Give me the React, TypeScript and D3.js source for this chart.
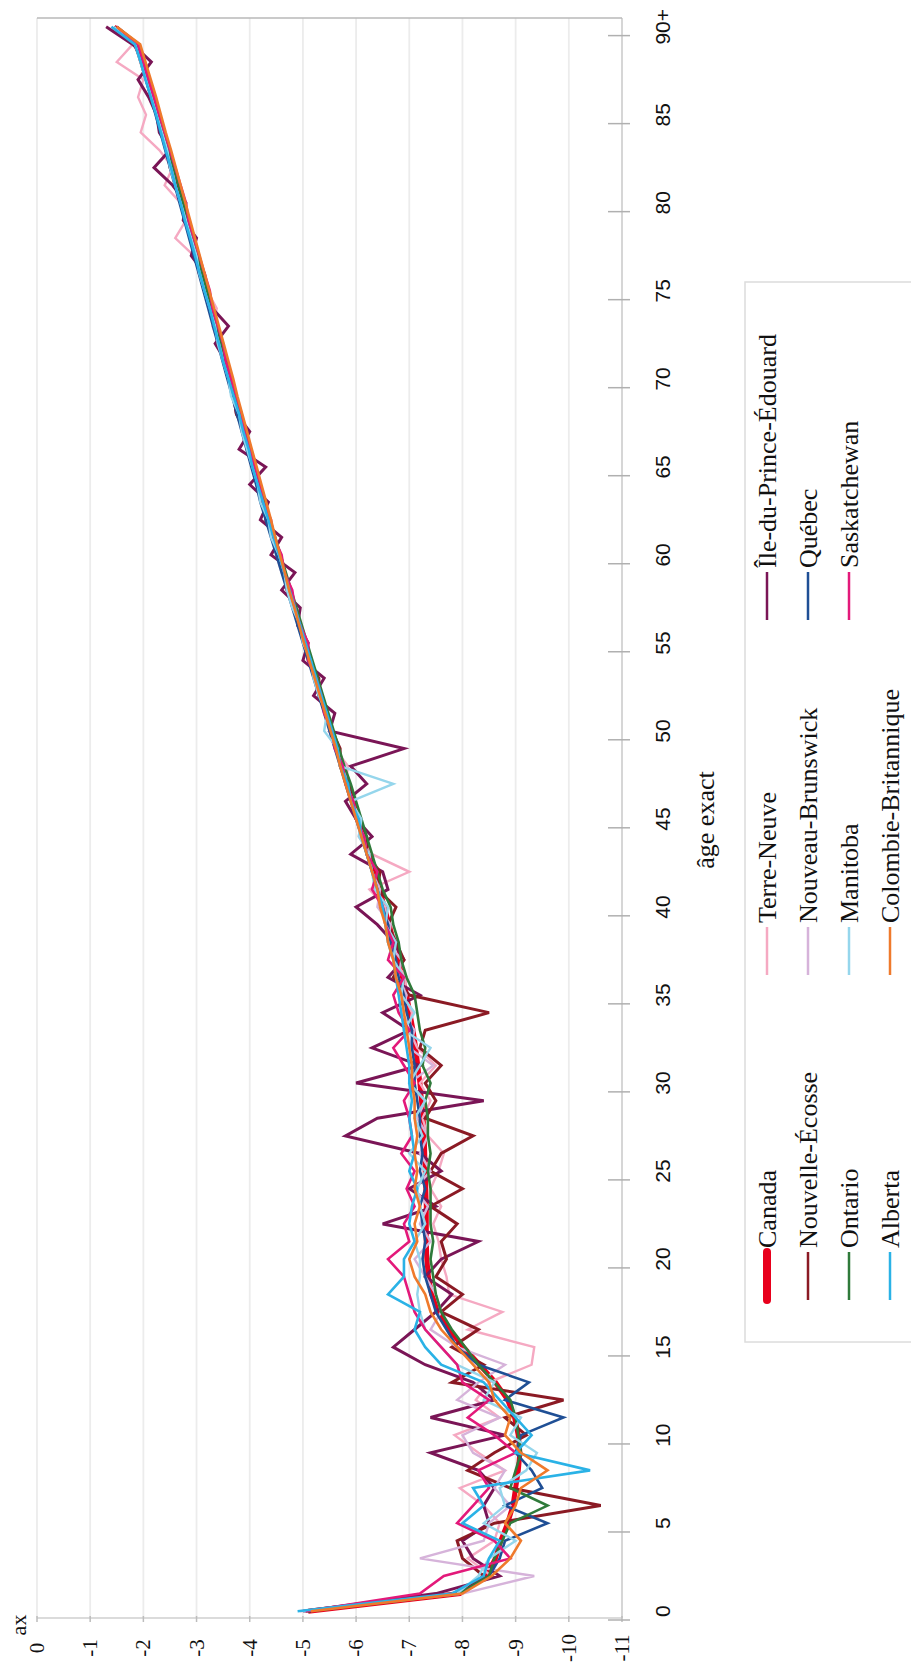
import React from "react";
import * as d3 from "d3";

const ages = d3.range(0, 91);
const valueTicks = [0, -1, -2, -3, -4, -5, -6, -7, -8, -9, -10, -11];
const ageTickCats = [0, 5, 10, 15, 20, 25, 30, 35, 40, 45, 50, 55, 60, 65, 70, 75, 80, 85, 90];
const ageTickLabels = ["0", "5", "10", "15", "20", "25", "30", "35", "40", "45", "50", "55", "60", "65", "70", "75", "80", "85", "90+"];

const canada = [
  -5.10, -7.95, -8.45, -8.62, -8.72, -8.85, -8.95, -9.00, -9.05, -9.08,
  -9.05, -8.98, -8.85, -8.62, -8.32, -8.02, -7.75, -7.55, -7.42, -7.36,
  -7.33, -7.32, -7.32, -7.32, -7.31, -7.30, -7.29, -7.28, -7.26, -7.23,
  -7.20, -7.16, -7.12, -7.07, -7.01, -6.95, -6.87, -6.79, -6.71, -6.62,
  -6.53, -6.44, -6.35, -6.25, -6.15, -6.05, -5.95, -5.85, -5.75, -5.64,
  -5.54, -5.44, -5.34, -5.24, -5.14, -5.04, -4.94, -4.84, -4.74, -4.64,
  -4.54, -4.44, -4.35, -4.25, -4.16, -4.07, -3.98, -3.89, -3.80, -3.71,
  -3.62, -3.53, -3.44, -3.35, -3.26, -3.17, -3.08, -2.99, -2.90, -2.81,
  -2.72, -2.63, -2.54, -2.45, -2.36, -2.27, -2.18, -2.09, -2.00, -1.85,
  -1.45,
];
const terreNeuve = [
  -4.95, -7.85, -8.55, -8.10, -8.60, -8.70, -8.40, -7.95, -8.80, -8.30,
  -7.85, -8.70, -8.25, -8.50, -9.30, -9.35, -8.10, -8.75, -7.75, -7.70,
  -7.60, -7.55, -7.45, -7.60, -7.40, -7.55, -7.65, -7.35, -7.25, -7.40,
  -7.20, -7.50, -7.15, -7.00, -7.05, -6.90, -6.95, -6.70, -6.80, -6.55,
  -6.55, -6.25, -7.00, -6.30, -6.05, -6.10, -5.90, -5.80, -5.85, -5.60,
  -5.50, -5.45, -5.30, -5.25, -5.10, -5.00, -4.95, -4.80, -4.75, -4.60,
  -4.50, -4.42, -4.30, -4.25, -4.12, -4.10, -3.95, -3.90, -3.82, -3.70,
  -3.62, -3.55, -3.42, -3.30, -3.38, -3.20, -3.05, -2.95, -2.60, -2.80,
  -2.70, -2.40, -2.55, -2.30, -1.95, -2.05, -1.90, -2.00, -1.50, -1.80,
  -1.40,
];
const ilePE = [
  -5.00, -7.50, -8.70, -8.20, -8.00, -8.50, -8.40, -8.60, -8.30, -7.40,
  -8.80, -7.40, -8.60, -8.20, -7.30, -6.70, -7.10, -7.50, -7.80, -7.30,
  -7.60, -8.30, -6.50, -7.50, -7.00, -7.60, -7.20, -5.80, -6.40, -8.40,
  -6.00, -7.20, -6.30, -7.00, -6.50, -7.20, -6.60, -6.90, -6.70, -6.40,
  -6.00, -6.60, -6.50, -5.90, -6.30, -6.00, -5.80, -6.20, -5.90, -6.90,
  -5.50, -5.60, -5.20, -5.40, -5.00, -5.10, -4.90, -4.95, -4.60, -4.85,
  -4.40, -4.60, -4.20, -4.35, -4.00, -4.30, -3.80, -4.00, -3.75, -3.70,
  -3.60, -3.55, -3.35, -3.60, -3.30, -3.20, -3.15, -2.90, -3.00, -2.75,
  -2.80, -2.55, -2.20, -2.50, -2.30, -2.25, -2.10, -1.90, -2.15, -1.80,
  -1.30,
];
const nouvelleEcosse = [
  -5.05, -7.90, -8.40, -8.00, -7.90, -8.60, -10.60, -8.90, -8.10, -8.60,
  -9.20, -8.80, -9.90, -7.80, -8.40, -7.80, -8.30, -7.60, -8.00, -7.50,
  -7.70, -7.60, -7.90, -7.40, -8.00, -7.40, -7.60, -8.20, -7.30, -7.50,
  -7.30, -7.60, -7.20, -7.30, -8.50, -7.00, -6.70, -6.90, -6.75, -6.60,
  -6.75, -6.40, -6.45, -6.20, -6.20, -6.00, -5.95, -5.85, -5.70, -5.70,
  -5.55, -5.45, -5.30, -5.30, -5.10, -5.05, -4.95, -4.85, -4.70, -4.65,
  -4.55, -4.45, -4.30, -4.30, -4.15, -4.05, -3.95, -3.90, -3.75, -3.70,
  -3.60, -3.55, -3.40, -3.35, -3.25, -3.20, -3.05, -3.00, -2.90, -2.80,
  -2.70, -2.65, -2.50, -2.45, -2.35, -2.25, -2.15, -2.05, -1.95, -1.85,
  -1.45,
];
const nouveauBrunswick = [
  -5.00, -8.00, -9.35, -7.20, -8.40, -8.50, -8.90, -8.60, -8.80, -8.20,
  -8.00, -8.70, -7.90, -8.30, -8.80, -7.90, -7.40, -7.60, -7.50, -7.30,
  -7.10, -7.40, -7.20, -7.35, -7.10, -7.40, -7.20, -7.35, -7.15, -7.30,
  -7.00, -7.45, -7.00, -7.10, -6.85, -6.95, -6.80, -6.85, -6.60, -6.65,
  -6.40, -6.45, -6.30, -6.20, -6.15, -6.00, -5.95, -5.80, -5.80, -5.60,
  -5.50, -5.45, -5.30, -5.25, -5.15, -5.00, -4.95, -4.85, -4.70, -4.65,
  -4.55, -4.45, -4.35, -4.25, -4.20, -4.05, -4.00, -3.85, -3.80, -3.70,
  -3.60, -3.50, -3.45, -3.35, -3.25, -3.15, -3.10, -3.00, -2.90, -2.80,
  -2.70, -2.60, -2.55, -2.45, -2.35, -2.25, -2.15, -2.05, -1.95, -1.85,
  -1.50,
];
const quebec = [
  -5.10, -7.95, -8.50, -8.70, -8.80, -9.60, -8.80, -9.50, -9.30, -9.00,
  -9.10, -9.90, -8.80, -9.25, -8.30, -7.90, -7.70, -7.50, -7.40, -7.30,
  -7.25, -7.30, -7.25, -7.20, -7.30, -7.20, -7.25, -7.20, -7.20, -7.15,
  -7.10, -7.10, -7.05, -7.05, -6.95, -6.90, -6.80, -6.75, -6.65, -6.60,
  -6.50, -6.40, -6.30, -6.20, -6.10, -6.00, -5.90, -5.80, -5.70, -5.60,
  -5.50, -5.40, -5.30, -5.20, -5.10, -5.00, -4.90, -4.80, -4.70, -4.60,
  -4.50, -4.40, -4.30, -4.20, -4.12, -4.03, -3.94, -3.85, -3.76, -3.67,
  -3.58, -3.49, -3.40, -3.31, -3.22, -3.13, -3.04, -2.95, -2.86, -2.77,
  -2.68, -2.59, -2.50, -2.41, -2.32, -2.23, -2.14, -2.05, -1.96, -1.87,
  -1.50,
];
const ontario = [
  -5.10, -7.95, -8.50, -8.60, -8.75, -8.90, -9.60, -8.90, -9.00, -9.10,
  -9.05, -9.00, -8.90, -8.60, -8.30, -8.05, -7.80, -7.60, -7.50, -7.45,
  -7.40, -7.45, -7.40, -7.40, -7.40, -7.35, -7.40, -7.35, -7.35, -7.30,
  -7.40, -7.25, -7.30, -7.20, -7.15, -7.10, -6.95, -6.85, -6.80, -6.70,
  -6.65, -6.50, -6.40, -6.30, -6.20, -6.10, -6.00, -5.90, -5.78, -5.68,
  -5.58, -5.48, -5.38, -5.28, -5.18, -5.08, -4.98, -4.88, -4.78, -4.68,
  -4.58, -4.48, -4.38, -4.28, -4.19, -4.10, -4.01, -3.92, -3.83, -3.74,
  -3.65, -3.56, -3.47, -3.38, -3.29, -3.20, -3.11, -3.02, -2.93, -2.84,
  -2.75, -2.66, -2.57, -2.48, -2.39, -2.30, -2.21, -2.12, -2.03, -1.92,
  -1.50,
];
const manitoba = [
  -5.00, -7.90, -8.30, -8.50, -9.00, -8.40, -8.80, -8.70, -9.20, -9.40,
  -8.90, -9.10, -8.40, -8.60, -7.90, -7.60, -7.30, -7.20, -7.15, -7.20,
  -7.20, -7.10, -7.30, -7.20, -7.15, -7.30, -7.00, -7.25, -7.10, -7.30,
  -7.00, -7.20, -7.40, -6.90, -7.10, -6.85, -6.90, -6.70, -6.75, -6.55,
  -6.60, -6.35, -6.30, -6.25, -6.05, -6.10, -5.90, -6.70, -5.70, -5.65,
  -5.40, -5.45, -5.30, -5.20, -5.15, -5.00, -4.95, -4.80, -4.70, -4.65,
  -4.55, -4.40, -4.35, -4.20, -4.15, -4.05, -3.95, -3.85, -3.80, -3.65,
  -3.60, -3.50, -3.40, -3.35, -3.25, -3.15, -3.05, -3.00, -2.90, -2.80,
  -2.70, -2.60, -2.50, -2.45, -2.35, -2.25, -2.15, -2.05, -1.95, -1.85,
  -1.45,
];
const saskatchewan = [
  -5.05, -7.20, -7.65, -8.90, -8.60, -7.90, -8.20, -8.50, -8.30, -9.00,
  -8.60, -8.10, -8.50, -8.00, -7.90, -7.60, -7.30, -7.10, -7.00, -6.90,
  -6.60, -7.00, -6.90, -7.10, -6.95, -7.10, -6.85, -7.05, -7.00, -6.90,
  -7.10, -6.90, -6.70, -7.00, -6.80, -6.70, -6.90, -6.60, -6.70, -6.55,
  -6.50, -6.30, -6.40, -6.20, -6.15, -6.00, -5.95, -5.80, -5.75, -5.60,
  -5.55, -5.40, -5.35, -5.25, -5.10, -5.10, -4.95, -4.85, -4.80, -4.65,
  -4.60, -4.45, -4.40, -4.25, -4.20, -4.10, -4.00, -3.90, -3.85, -3.75,
  -3.65, -3.55, -3.50, -3.40, -3.30, -3.25, -3.15, -3.05, -2.95, -2.85,
  -2.80, -2.70, -2.60, -2.50, -2.40, -2.30, -2.20, -2.10, -2.00, -1.90,
  -1.50,
];
const alberta = [
  -4.90, -7.80, -8.40, -8.50, -8.70, -8.00, -8.40, -8.20, -10.40, -9.00,
  -9.30, -9.00, -8.70, -8.40, -7.60, -7.30, -7.10, -7.20, -6.60, -6.90,
  -6.90, -7.10, -7.00, -7.05, -7.15, -7.00, -7.10, -7.05, -7.00, -7.05,
  -7.00, -7.00, -6.95, -6.90, -6.85, -6.80, -6.75, -6.70, -6.60, -6.55,
  -6.50, -6.40, -6.30, -6.20, -6.10, -6.05, -5.90, -5.85, -5.70, -5.65,
  -5.55, -5.45, -5.35, -5.25, -5.15, -5.05, -4.95, -4.85, -4.75, -4.65,
  -4.55, -4.45, -4.35, -4.25, -4.15, -4.05, -3.98, -3.88, -3.80, -3.70,
  -3.60, -3.50, -3.42, -3.33, -3.25, -3.15, -3.06, -2.97, -2.88, -2.78,
  -2.70, -2.60, -2.52, -2.42, -2.33, -2.24, -2.14, -2.04, -1.95, -1.84,
  -1.40,
];
const colombieBritannique = [
  -5.15, -8.00, -8.55, -8.90, -9.10, -8.80, -9.00, -9.10, -9.60, -9.10,
  -8.80, -8.90, -8.60, -8.50, -8.20, -7.90, -7.60, -7.40, -7.30, -7.10,
  -7.00, -7.15, -7.10, -7.20, -7.10, -7.15, -7.10, -7.15, -7.10, -7.10,
  -7.05, -7.05, -7.00, -6.95, -6.90, -6.85, -6.75, -6.70, -6.60, -6.55,
  -6.45, -6.40, -6.30, -6.20, -6.10, -6.00, -5.90, -5.80, -5.70, -5.62,
  -5.52, -5.42, -5.32, -5.22, -5.12, -5.02, -4.93, -4.84, -4.74, -4.66,
  -4.57, -4.48, -4.40, -4.31, -4.22, -4.13, -4.04, -3.95, -3.86, -3.77,
  -3.69, -3.60, -3.51, -3.42, -3.33, -3.24, -3.15, -3.06, -2.97, -2.88,
  -2.79, -2.70, -2.61, -2.52, -2.42, -2.33, -2.24, -2.14, -2.04, -1.94,
  -1.50,
];

const seriesNames = [
  "Canada", "Terre-Neuve", "Île-du-Prince-Édouard", "Nouvelle-Écosse", "Nouveau-Brunswick",
  "Québec", "Ontario", "Manitoba", "Saskatchewan", "Alberta", "Colombie-Britannique",
];
const seriesValues = [
  canada, terreNeuve, ilePE, nouvelleEcosse, nouveauBrunswick,
  quebec, ontario, manitoba, saskatchewan, alberta, colombieBritannique,
];
const seriesColors = [
  "#e8001c", "#f5a9c2", "#7a1556", "#8b1a24", "#d6b3da",
  "#1f4f95", "#2f7a3a", "#95d6ec", "#e3197a", "#2ab2e6", "#ef7a2c",
];
const seriesWidths = [5, 2.4, 3, 3, 2.4, 2.6, 2.6, 2.4, 2.6, 2.6, 2.6];

const W = 911;
const H = 1680;
const serif = "'Liberation Serif', 'Times New Roman', serif";
const sans = "'Liberation Sans', Arial, sans-serif";

export default function App() {
  const x = d3.scaleLinear().domain([0, -11]).range([37, 622]);
  const yb = d3.scaleBand<number>().domain(ages).range([1620, 18]).paddingInner(0).paddingOuter(0);
  const bw = yb.bandwidth();
  const yc = (a: number) => (yb(a) as number) + bw / 2;

  const line = d3
    .line<number>()
    .x((d) => x(d))
    .y((_d, i) => yc(ages[i]));

  const legendRowX = [767, 808, 849, 890];
  const legendColBottom = [1300, 975, 620];

  return (
    <svg width={W} height={H} style={{ position: "absolute", left: 0, top: 0, background: "#fff" }}>
      <rect x={0} y={0} width={W} height={H} fill="#fff" />
      {valueTicks.map((v) => (
        <line key={"g" + v} x1={x(v)} x2={x(v)} y1={18} y2={1618} stroke={v === -11 ? "#c8c8c8" : "#ececec"} strokeWidth={v === -11 ? 1.5 : 1.8} />
      ))}
      <line x1={x(0)} x2={x(-11)} y1={18} y2={18} stroke="#b8b8b8" strokeWidth={1.5} />
      <line x1={x(0)} x2={x(-11)} y1={1618} y2={1618} stroke="#cfcfcf" strokeWidth={1.5} />
      {valueTicks.map((v) => (
        <line key={"vt" + v} x1={x(v)} x2={x(v)} y1={1616} y2={1622} stroke="#bdbdbd" strokeWidth={1.5} />
      ))}
      {ageTickCats.map((a) => (
        <line key={"at" + a} x1={608} x2={630} y1={(yb(a) as number) + bw} y2={(yb(a) as number) + bw} stroke="#b0b0b0" strokeWidth={1.5} />
      ))}
      {seriesValues.map((vals, i) => (
        <path key={seriesNames[i]} d={line(vals) as string} fill="none" stroke={seriesColors[i]} strokeWidth={seriesWidths[i]} strokeLinejoin="miter" strokeMiterlimit={4} />
      ))}
      {valueTicks.map((v) => (
        <text key={"vl" + v} transform={`translate(${x(v)},1648) rotate(-90)`} textAnchor="middle" dominantBaseline="central" fontFamily={serif} fontSize={21} fill="#111">
          {v === 0 ? "0" : "-" + Math.abs(v)}
        </text>
      ))}
      <text transform={`translate(18,1625) rotate(-90)`} textAnchor="middle" dominantBaseline="central" fontFamily={serif} fontSize={22} fill="#111">
        ax
      </text>
      {ageTickCats.map((a, i) => (
        <text key={"al" + a} transform={`translate(662,${yc(a)}) rotate(-90)`} textAnchor="middle" dominantBaseline="central" fontFamily={sans} fontSize={21} fill="#111">
          {ageTickLabels[i]}
        </text>
      ))}
      <text transform={`translate(705,820) rotate(-90)`} textAnchor="middle" dominantBaseline="central" fontFamily={serif} fontSize={26} fill="#111">
        âge exact
      </text>
      <rect x={745} y={282} width={200} height={1060} fill="none" stroke="#dcdcdc" strokeWidth={1.5} />
      {seriesNames.map((name, i) => {
        const r = Math.floor(i / 3);
        const c = i % 3;
        const lx = legendRowX[r];
        const yb2 = legendColBottom[c];
        const isCanada = i === 0;
        return (
          <g key={"lg" + name}>
            <line x1={lx} x2={lx} y1={yb2} y2={yb2 - 48} stroke={seriesColors[i]} strokeWidth={isCanada ? 8 : 2.5} strokeLinecap={isCanada ? "round" : "butt"} />
            <text transform={`translate(${lx},${yb2 - 52}) rotate(-90)`} textAnchor="start" dominantBaseline="central" fontFamily={serif} fontSize={26} fill="#111">
              {name}
            </text>
          </g>
        );
      })}
    </svg>
  );
}
